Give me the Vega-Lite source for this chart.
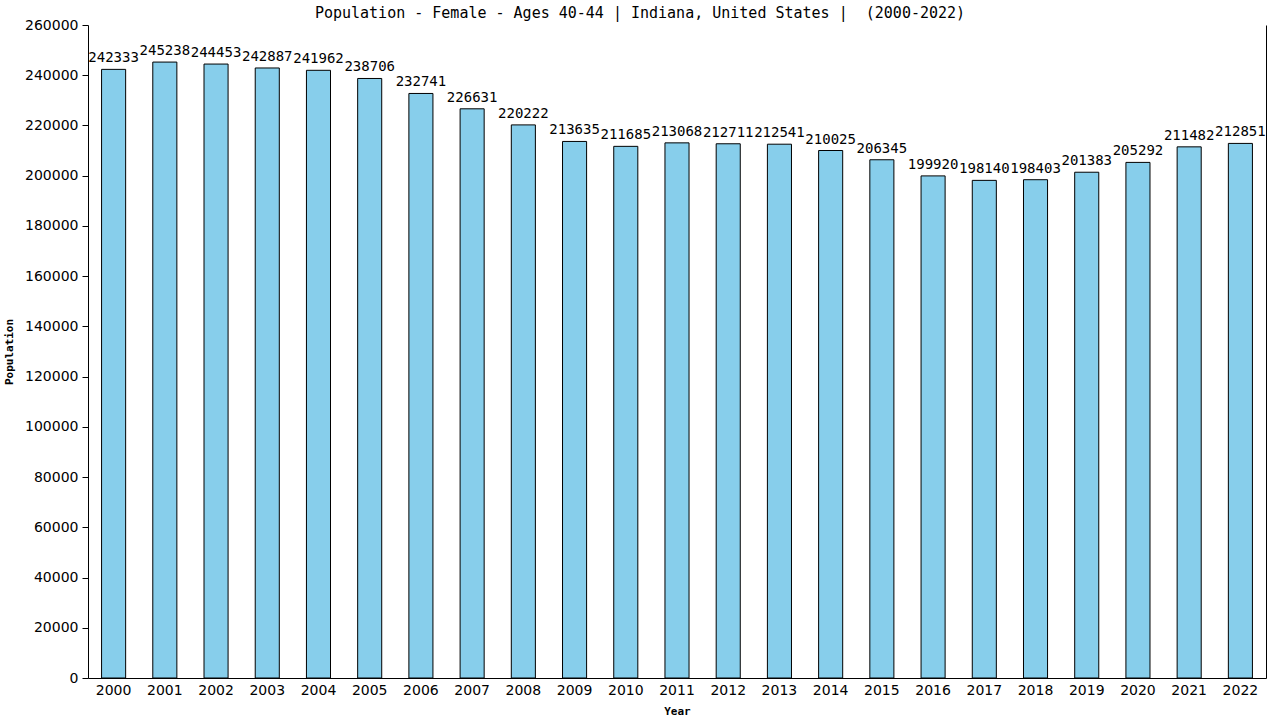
{
  "$schema": "https://vega.github.io/schema/vega-lite/v6.json",
  "autosize": {"type": "none"},
  "width": 1178,
  "height": 653,
  "padding": {"left": 88, "top": 25, "right": 14, "bottom": 42},
  "background": "white",
  "title": {
    "text": "Population - Female - Ages 40-44 | Indiana, United States |\u00a0 (2000-2022)",
    "font": "DejaVu Sans Mono",
    "fontSize": 15,
    "fontWeight": "normal",
    "color": "black",
    "anchor": "middle",
    "dx": -37,
    "dy": 7,
    "offset": 4
  },
  "data": {
    "values": [
      {"year": "2000", "population": 242333},
      {"year": "2001", "population": 245238},
      {"year": "2002", "population": 244453},
      {"year": "2003", "population": 242887},
      {"year": "2004", "population": 241962},
      {"year": "2005", "population": 238706},
      {"year": "2006", "population": 232741},
      {"year": "2007", "population": 226631},
      {"year": "2008", "population": 220222},
      {"year": "2009", "population": 213635},
      {"year": "2010", "population": 211685},
      {"year": "2011", "population": 213068},
      {"year": "2012", "population": 212711},
      {"year": "2013", "population": 212541},
      {"year": "2014", "population": 210025},
      {"year": "2015", "population": 206345},
      {"year": "2016", "population": 199920},
      {"year": "2017", "population": 198140},
      {"year": "2018", "population": 198403},
      {"year": "2019", "population": 201383},
      {"year": "2020", "population": 205292},
      {"year": "2021", "population": 211482},
      {"year": "2022", "population": 212851}
    ]
  },
  "encoding": {
    "x": {
      "field": "year",
      "type": "ordinal",
      "scale": {"paddingInner": 0.53, "paddingOuter": 0.265},
      "axis": {
        "title": "Year",
        "titleFont": "DejaVu Sans Mono",
        "titleFontSize": 11,
        "titleFontWeight": "bold",
        "titlePadding": 8,
        "labelAngle": 0,
        "labelFont": "DejaVu Sans",
        "labelFontSize": 14,
        "labelColor": "black",
        "labelPadding": 5,
        "ticks": false,
        "domainColor": "black",
        "grid": false
      }
    }
  },
  "layer": [
    {
      "mark": {"type": "bar", "fill": "#87CEEB", "stroke": "black", "strokeWidth": 1},
      "encoding": {
        "y": {
          "field": "population",
          "type": "quantitative",
          "scale": {"domain": [0, 260000], "nice": false},
          "axis": {
            "title": "Population",
            "titleFont": "DejaVu Sans Mono",
            "titleFontSize": 11,
            "titleFontWeight": "bold",
            "titlePadding": 10,
            "values": [0, 20000, 40000, 60000, 80000, 100000, 120000, 140000, 160000, 180000, 200000, 220000, 240000, 260000],
            "format": "d",
            "labelFont": "DejaVu Sans",
            "labelFontSize": 14,
            "labelColor": "black",
            "labelPadding": 4,
            "tickSize": 6,
            "tickColor": "black",
            "domainColor": "black",
            "grid": false
          }
        }
      }
    },
    {
      "mark": {
        "type": "text",
        "font": "DejaVu Sans Mono",
        "fontSize": 14,
        "color": "black",
        "baseline": "alphabetic",
        "dy": -7
      },
      "encoding": {
        "y": {
          "field": "population",
          "type": "quantitative",
          "scale": {"domain": [0, 260000], "nice": false},
          "axis": {
            "orient": "right",
            "title": null,
            "labels": false,
            "ticks": false,
            "grid": false,
            "domainColor": "black"
          }
        },
        "text": {"field": "population", "type": "quantitative", "format": "d"}
      }
    }
  ],
  "resolve": {"axis": {"y": "independent"}},
  "config": {
    "view": {"stroke": null},
    "axis": {"domainWidth": 1}
  }
}
